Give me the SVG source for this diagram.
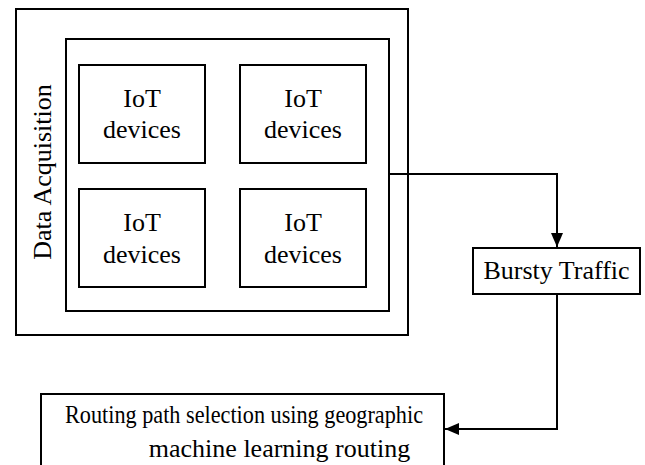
<svg xmlns="http://www.w3.org/2000/svg" width="645" height="465" viewBox="0 0 645 465">
<style>
.box{fill:#fff;stroke:#000;stroke-width:2}
.t{font-family:"Liberation Serif","Times New Roman",serif;font-size:26px;fill:#000;text-anchor:middle}
.c{fill:none;stroke:#000;stroke-width:2}
</style>
<defs>
<marker id="ah" markerWidth="14" markerHeight="12" refX="14" refY="6" orient="auto" markerUnits="userSpaceOnUse">
<path d="M0,0 L14,6 L0,12 Z" fill="#000"/>
</marker>
</defs>
<rect width="645" height="465" fill="#fff"/>
<g id="data-acquisition">
<rect class="box" x="16" y="9" width="392" height="326"/>
<text class="t" transform="translate(51,172) rotate(-90)">Data Acquisition</text>
</g>
<g id="iot-group">
<rect class="box" x="66" y="39" width="323" height="272"/>
</g>
<g id="iot1">
<rect class="box" x="79" y="65" width="126" height="98"/>
<text class="t" x="142" y="107">IoT</text>
<text class="t" x="142" y="138">devices</text>
</g>
<g id="iot2">
<rect class="box" x="240" y="65" width="126" height="98"/>
<text class="t" x="303" y="107">IoT</text>
<text class="t" x="303" y="138">devices</text>
</g>
<g id="iot3">
<rect class="box" x="79" y="189" width="126" height="98"/>
<text class="t" x="142" y="231">IoT</text>
<text class="t" x="142" y="263">devices</text>
</g>
<g id="iot4">
<rect class="box" x="240" y="189" width="126" height="98"/>
<text class="t" x="303" y="231">IoT</text>
<text class="t" x="303" y="263">devices</text>
</g>
<g id="bursty">
<rect class="box" x="473" y="248" width="167" height="46"/>
<text class="t" x="556.5" y="279">Bursty Traffic</text>
</g>
<g id="routing">
<rect class="box" x="41" y="394" width="403" height="80"/>
<text class="t" x="244" y="423" textLength="358" lengthAdjust="spacingAndGlyphs">Routing path selection using geographic</text>
<text class="t" x="279.5" y="457">machine learning routing</text>
</g>
<g id="connectors">
<path class="c" d="M389,174 H557 V247" marker-end="url(#ah)"/>
<path class="c" d="M557,294 V429 H445" marker-end="url(#ah)"/>
</g>
</svg>
